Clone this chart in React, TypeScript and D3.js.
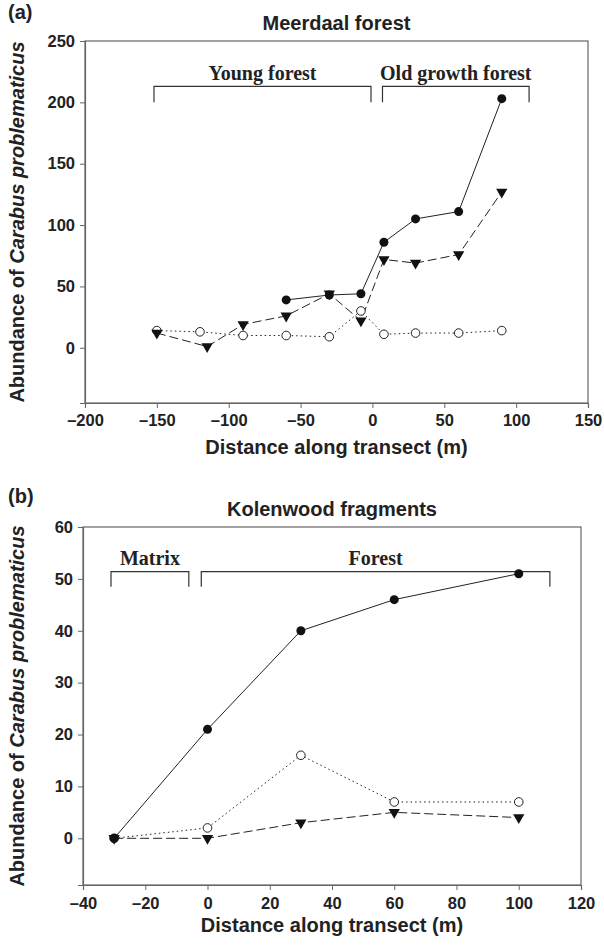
import React, { useEffect, useRef } from 'react';
import * as d3 from 'd3';

// (a) Meerdaal forest
const meerdaalFilledX = [-60, -30, -8, 8, 30, 60, 90];
const meerdaalFilledY = [39, 43, 44, 86, 105, 111, 203];
const meerdaalTriX = [-150, -115, -90, -60, -30, -8, 8, 30, 60, 90];
const meerdaalTriY = [12, 1, 19, 26, 44, 22, 72, 69, 76, 127];
const meerdaalOpenX = [-150, -120, -90, -60, -30, -8, 8, 30, 60, 90];
const meerdaalOpenY = [14, 13, 10, 10, 9, 30, 11, 12, 12, 14];
const meerdaalXTicks = [-200, -150, -100, -50, 0, 50, 100, 150];
const meerdaalYTicks = [0, 50, 100, 150, 200, 250];
const meerdaalZones = ['Young forest', 'Old growth forest'];
const meerdaalZoneFrom = [-152, 7];
const meerdaalZoneTo = [-1, 109];

// (b) Kolenwood fragments
const kolenX = [-30, 0, 30, 60, 100];
const kolenFilledY = [0, 21, 40, 46, 51];
const kolenOpenY = [0, 2, 16, 7, 7];
const kolenTriY = [0, 0, 3, 5, 4];
const kolenXTicks = [-40, -20, 0, 20, 40, 60, 80, 100, 120];
const kolenYTicks = [0, 10, 20, 30, 40, 50, 60];
const kolenZones = ['Matrix', 'Forest'];
const kolenZoneFrom = [-31, -2];
const kolenZoneTo = [-6, 110];

const SANS = 'Arial, "Liberation Sans", sans-serif';
const SERIF = '"Times New Roman", "Liberation Serif", serif';

type Panel = {
  tag: string;
  title: string;
  box: { left: number; right: number; top: number; bottom: number };
  xDomain: [number, number];
  yDomain: [number, number];
  xTicks: number[];
  yTicks: number[];
  filled: [number, number][];
  tri: [number, number][];
  open: [number, number][];
  zones: string[];
  zoneFrom: number[];
  zoneTo: number[];
  zoneTop: number;
  zoneBottom: number;
  zoneText: number;
  tagY: number;
  titleY: number;
  tickLabelY: number;
  xTitleY: number;
};

const zip = (xs: number[], ys: number[]) => xs.map((x, i) => [x, ys[i]] as [number, number]);

function drawPanel(svg: d3.Selection<SVGSVGElement, unknown, null, undefined>, p: Panel) {
  const { left, right, top, bottom } = p.box;
  const x = d3.scaleLinear().domain(p.xDomain).range([left, right]);
  const y = d3.scaleLinear().domain(p.yDomain).range([bottom, top]);
  const g = svg.append('g');
  const fmt = (d: d3.NumberValue) => String(d).replace('-', '\u2013');

  // frame
  g.append('rect')
    .attr('x', left).attr('y', top)
    .attr('width', right - left).attr('height', bottom - top)
    .attr('fill', 'none').attr('stroke', '#666').attr('stroke-width', 1.2);

  // axes
  const xa = g.append('g').attr('transform', `translate(0,${bottom})`)
    .call(d3.axisBottom(x).tickValues(p.xTicks).tickSize(5).tickFormat(fmt));
  const ya = g.append('g').attr('transform', `translate(${left},0)`)
    .call(d3.axisLeft(y).tickValues(p.yTicks).tickSize(5).tickFormat(fmt));
  [xa, ya].forEach(a => {
    a.select('.domain').attr('stroke', '#666').attr('stroke-width', 1.2);
    a.selectAll('line').attr('stroke', '#666');
    a.selectAll('text')
      .attr('font-family', SANS).attr('font-size', 16.5).attr('font-weight', 'bold').attr('fill', '#222');
  });
  xa.selectAll('text').attr('y', null).attr('dy', null)
    .attr('transform', `translate(0,${p.tickLabelY - bottom})`);
  ya.selectAll('text').attr('x', -10);

  // zone brackets
  p.zones.forEach((label, i) => {
    const x1 = x(p.zoneFrom[i]);
    const x2 = x(p.zoneTo[i]);
    g.append('path')
      .attr('d', `M${x1},${y(p.zoneBottom)}V${y(p.zoneTop)}H${x2}V${y(p.zoneBottom)}`)
      .attr('fill', 'none').attr('stroke', '#333').attr('stroke-width', 1.2);
    g.append('text')
      .attr('x', (x1 + x2) / 2).attr('y', y(p.zoneText))
      .attr('text-anchor', 'middle')
      .attr('font-family', SERIF).attr('font-size', 20).attr('font-weight', 'bold').attr('fill', '#222')
      .text(label);
  });

  // series
  const line = d3.line<[number, number]>().x(d => x(d[0])).y(d => y(d[1]));
  g.append('path').datum(p.open).attr('d', line)
    .attr('fill', 'none').attr('stroke', '#222').attr('stroke-width', 1).attr('stroke-dasharray', '1.5,3');
  g.append('path').datum(p.tri).attr('d', line)
    .attr('fill', 'none').attr('stroke', '#222').attr('stroke-width', 1).attr('stroke-dasharray', '9,4');
  g.append('path').datum(p.filled).attr('d', line)
    .attr('fill', 'none').attr('stroke', '#222').attr('stroke-width', 1);

  g.selectAll('.open').data(p.open).join('circle')
    .attr('cx', d => x(d[0])).attr('cy', d => y(d[1])).attr('r', 4.3)
    .attr('fill', 'white').attr('stroke', '#222').attr('stroke-width', 1);
  const tri = d3.symbol().type(d3.symbolTriangle).size(55);
  g.selectAll('.tri').data(p.tri).join('path')
    .attr('d', tri)
    .attr('transform', d => `translate(${x(d[0])},${y(d[1])}) rotate(180)`)
    .attr('fill', '#111');
  g.selectAll('.filled').data(p.filled).join('circle')
    .attr('cx', d => x(d[0])).attr('cy', d => y(d[1])).attr('r', 4.5)
    .attr('fill', '#111');

  // titles
  g.append('text').attr('x', 8).attr('y', p.tagY)
    .attr('font-family', SANS).attr('font-size', 20).attr('font-weight', 'bold').attr('fill', '#222')
    .text(p.tag);
  g.append('text').attr('x', (left + right) / 2).attr('y', p.titleY).attr('text-anchor', 'middle')
    .attr('font-family', SANS).attr('font-size', 20).attr('font-weight', 'bold').attr('fill', '#222')
    .text(p.title);
  g.append('text').attr('x', (left + right) / 2).attr('y', p.xTitleY).attr('text-anchor', 'middle')
    .attr('font-family', SANS).attr('font-size', 20).attr('font-weight', 'bold').attr('fill', '#222')
    .text('Distance along transect (m)');
  const yt = g.append('text')
    .attr('transform', `translate(24,${(top + bottom) / 2}) rotate(-90)`)
    .attr('text-anchor', 'middle')
    .attr('font-family', SANS).attr('font-size', 20).attr('font-weight', 'bold').attr('fill', '#222');
  yt.append('tspan').text('Abundance of ');
  yt.append('tspan').attr('font-style', 'italic').text('Carabus problematicus');
}

export default function App() {
  const ref = useRef<SVGSVGElement>(null);

  useEffect(() => {
    const svg = d3.select(ref.current!);
    svg.selectAll('*').remove();

    drawPanel(svg, {
      tag: '(a)', title: 'Meerdaal forest',
      box: { left: 85, right: 588, top: 41, bottom: 403 },
      xDomain: [-200, 150], yDomain: [-45, 250],
      xTicks: meerdaalXTicks, yTicks: meerdaalYTicks,
      filled: zip(meerdaalFilledX, meerdaalFilledY),
      tri: zip(meerdaalTriX, meerdaalTriY),
      open: zip(meerdaalOpenX, meerdaalOpenY),
      zones: meerdaalZones, zoneFrom: meerdaalZoneFrom, zoneTo: meerdaalZoneTo,
      zoneTop: 213, zoneBottom: 200, zoneText: 218,
      tagY: 19, titleY: 30, tickLabelY: 426, xTitleY: 454,
    });

    drawPanel(svg, {
      tag: '(b)', title: 'Kolenwood fragments',
      box: { left: 83, right: 581, top: 527, bottom: 885 },
      xDomain: [-40, 120], yDomain: [-9, 60],
      xTicks: kolenXTicks, yTicks: kolenYTicks,
      filled: zip(kolenX, kolenFilledY),
      tri: zip(kolenX, kolenTriY),
      open: zip(kolenX, kolenOpenY),
      zones: kolenZones, zoneFrom: kolenZoneFrom, zoneTo: kolenZoneTo,
      zoneTop: 51.4, zoneBottom: 48.5, zoneText: 52.6,
      tagY: 503, titleY: 516, tickLabelY: 909, xTitleY: 932,
    });

    return () => {
      svg.selectAll('*').remove();
    };
  }, []);

  return (
    <svg
      ref={ref}
      width={604}
      height={945}
      style={{ position: 'absolute', left: 0, top: 0, background: 'white' }}
    />
  );
}
